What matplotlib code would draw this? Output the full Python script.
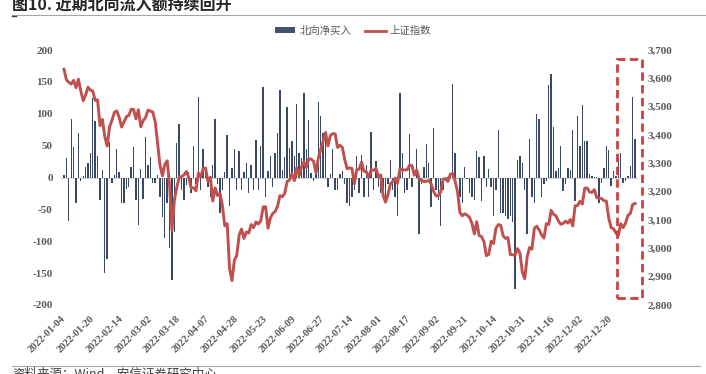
import matplotlib
matplotlib.use('Agg')
import matplotlib.pyplot as plt
from matplotlib.patches import Rectangle, Patch
from matplotlib.lines import Line2D
from matplotlib.font_manager import FontProperties
import numpy as np

# ---------------- data ----------------
tick_labels = ['2022-01-04', '2022-01-20', '2022-02-14', '2022-03-02', '2022-03-18',
               '2022-04-07', '2022-04-28', '2022-05-23', '2022-06-09', '2022-06-27',
               '2022-07-14', '2022-08-01', '2022-08-17', '2022-09-02', '2022-09-21',
               '2022-10-14', '2022-10-31', '2022-11-16', '2022-12-02', '2022-12-20']
tick_step = 12

# 北向净买入 (亿元)
north_flow = [
    4, 30, -68, 92, 48, -40, 70, -6, 3, 17,
    23, 38, 125, 88, 34, -35, 11, -150, -128, 56,
    -8, 4, 45, 9, -40, -40, -18, -15, 16, 48,
    -35, -75, 14, -33, 63, 20, 32, -8, -8, 4,
    -30, -62, -95, -40, -110, -160, -85, 54, 84, -20,
    -35, -12, 8, -25, 50, -10, 127, -20, 44, 15,
    -15, -30, 20, 91, -10, -55, -20, 9, 67, -45,
    15, 44, -20, 41, -20, 8, 22, -25, 20, -20,
    59, -20, 50, 142, -30, 10, 33, -15, 38, 70,
    137, 12, 32, 111, 46, 57, 33, 116, 38, 30,
    132, 45, 90, 7, -6, 5, 119, 96, 70, 65,
    -15, 6, 45, -20, -20, 5, 10, -10, -40, -45,
    -30, -20, 34, -25, 36, -30, 20, -30, 71, -20,
    26, -15, -25, -20, -30, -10, 28, -20, -30, -60,
    132, 38, -25, -20, 68, -15, -1, 44, -89, -10,
    17, 52, 22, -47, 78, -20, -35, -76, -20, -3,
    1, 5, 147, 38, -3, -30, -40, 17, -3, -25,
    -30, -35, 42, 32, -37, 33, -15, 14, -15, -60,
    -20, 75, -55, -55, -60, -65, -60, -70, -175, 28,
    33, 23, -20, -89, 60, -30, -40, 99, 91, -30,
    -10, -5, 145, 163, 80, 10, 15, 50, -21, -10,
    15, 12, 74, -37, 97, 49, 113, 57, 57, 5,
    2, 1, 1, -40, -8, 15, 49, 43, -14, 10,
    2, 31, 39, -8, -5, 3, 18, 126, 60,
]

# 上证指数
sse_jan = [3632, 3595, 3586, 3580, 3593, 3567, 3597, 3555, 3521, 3541,
           3569, 3558, 3555, 3522, 3524, 3433, 3455, 3394, 3361]
sse_feb = [3429, 3452, 3480, 3485, 3462, 3428, 3446, 3465, 3469, 3491,
           3490, 3457, 3489, 3429, 3451, 3462]
sse_mar = [3488, 3484, 3481, 3447, 3372, 3293, 3256, 3296, 3309, 3223,
           3064, 3171, 3215, 3251, 3253, 3259, 3271, 3250, 3212, 3214,
           3203, 3266, 3252]
sse_apr = [3282, 3283, 3236, 3251, 3167, 3213, 3186, 3194, 3151, 3079,
           3087, 2928, 2886, 2958, 2975, 3047]
sse_may = [3068, 3035, 3058, 3054, 3084, 3073, 3093, 3086, 3097, 3146,
           3147, 3071, 3107, 3123, 3130, 3149, 3186]
sse_jun = [3182, 3195, 3236, 3241, 3263, 3239, 3285, 3256, 3288, 3305,
           3286, 3316, 3315, 3307, 3267, 3320, 3349, 3379, 3409, 3361, 3398]
sse_jul = [3405, 3404, 3356, 3364, 3356, 3313, 3281, 3284, 3282, 3228,
           3278, 3279, 3305, 3272, 3270, 3250, 3277, 3275, 3282, 3253]
sse_aug = [3259, 3186, 3163, 3189, 3227, 3236, 3248, 3230, 3281, 3276,
           3277, 3277, 3293, 3292, 3258, 3277, 3244, 3240, 3236, 3236,
           3240, 3227, 3202]
sse_sep = [3185, 3186, 3199, 3244, 3246, 3236, 3262, 3263, 3237, 3199,
           3126, 3115, 3122, 3117, 3109, 3088, 3051, 3094, 3045, 3041, 3024]
sse_oct = [2974, 2979, 3025, 3017, 3071, 3084, 3081, 3044, 3035, 3038,
           2978, 2977, 2977, 2999, 2983, 2916, 2893]
sse_nov = [2969, 3003, 2997, 3071, 3078, 3065, 3048, 3036, 3087, 3084,
           3134, 3120, 3115, 3097, 3085, 3088, 3096, 3089, 3102, 3079,
           3150, 3151]
sse_dec = [3166, 3156, 3212, 3213, 3199, 3197, 3207, 3179, 3177, 3176,
           3168, 3167, 3107, 3073, 3069, 3054, 3045, 3087, 3073, 3089]
sse_jan23 = [3116, 3123, 3155, 3158]
sse_index = (sse_jan + sse_feb + sse_mar + sse_apr + sse_may + sse_jun + sse_jul
             + sse_aug + sse_sep + sse_oct + sse_nov + sse_dec + sse_jan23)

# ---------------- figure ----------------
W, H = 706, 374
fig = plt.figure(figsize=(W / 100, H / 100), dpi=100)


def fx(px):
    return px / W


def fy(py):
    return 1 - py / H


serif_b = dict(family='Liberation Serif', weight='bold', size=8, color='#595959')
cjk = ['Noto Sans CJK SC', 'DejaVu Sans']

ax = fig.add_axes([fx(61), fy(305), (638 - 61) / W, (305 - 50) / H])
x = np.arange(len(north_flow))
ax.bar(x, north_flow, width=0.58, color='#3A4864', zorder=2, linewidth=0)
ax.axhline(0, color='#D0D0D0', lw=0.8, zorder=1)
ax.set_xlim(-1.25, 239.2)
ax.set_ylim(-200, 200)
ax.set_yticks(np.arange(-200, 201, 50))
ax.set_yticklabels([f'{v:d}' for v in np.arange(-200, 201, 50)], **serif_b)
ax.set_xticks(np.arange(len(tick_labels)) * tick_step)
ax.set_xticklabels(tick_labels, rotation=45, ha='right', va='center',
                   rotation_mode='anchor', family='Liberation Serif',
                   weight='bold', size=7.5, color='#595959')
ax.tick_params(axis='both', length=0)
ax.tick_params(axis='y', pad=6)
ax.tick_params(axis='x', pad=9)
for s in ax.spines.values():
    s.set_visible(False)

ax2 = ax.twinx()
xl = np.arange(len(sse_index))
ax2.plot(xl, sse_index, color='#C0504D', lw=2.1, zorder=3, solid_joinstyle='round')
ax2.set_ylim(2800, 3700)
ax2.set_yticks(np.arange(2800, 3701, 100))
ax2.set_yticklabels([f'{v:,}' for v in np.arange(2800, 3701, 100)], **serif_b)
ax2.tick_params(axis='y', length=0, pad=7)
for s in ax2.spines.values():
    s.set_visible(False)

# legend
handles = [Patch(facecolor='#44546A', edgecolor='none'),
           Line2D([], [], color='#C0504D', lw=2)]
leg = fig.legend(handles, ['北向净买入', '上证指数'], loc='center',
                 bbox_to_anchor=(fx(353), fy(31)), ncol=2, frameon=False,
                 prop=FontProperties(family=cjk, size=7.5),
                 handlelength=2.0, handleheight=0.5, columnspacing=1.3,
                 handletextpad=0.4, labelcolor='#595959')

# highlight box
fig.add_artist(Rectangle((fx(617), fy(298)), fx(642) - fx(617), (298 - 59) / H,
                         transform=fig.transFigure, fill=False,
                         edgecolor='#CC3F3F', lw=2.0, linestyle=(0, (3, 1.6))))

# title & rules
fig.text(fx(12), fy(12.5), '图10. 近期北向流入额持续回升', fontsize=11.5,
         fontweight='bold', family=cjk, va='bottom', ha='left', color='#262626')
fig.add_artist(Line2D([fx(12), 1.0], [fy(14.7), fy(14.7)], color='#A6A6A6',
                      lw=0.8, transform=fig.transFigure))
fig.add_artist(Line2D([fx(12), fx(16)], [fy(15.5), fy(15.5)], color='#404040',
                      lw=1.0, transform=fig.transFigure))
fig.add_artist(Line2D([fx(12), fx(700)], [fy(365.5), fy(365.5)], color='#A6A6A6',
                      lw=0.8, transform=fig.transFigure))
fig.text(fx(12), fy(367.5), '资料来源：Wind，安信证券研究中心', fontsize=9,
         family=cjk, style='italic', va='top', ha='left', color='#404040')

fig.savefig('out.png', dpi=100)
